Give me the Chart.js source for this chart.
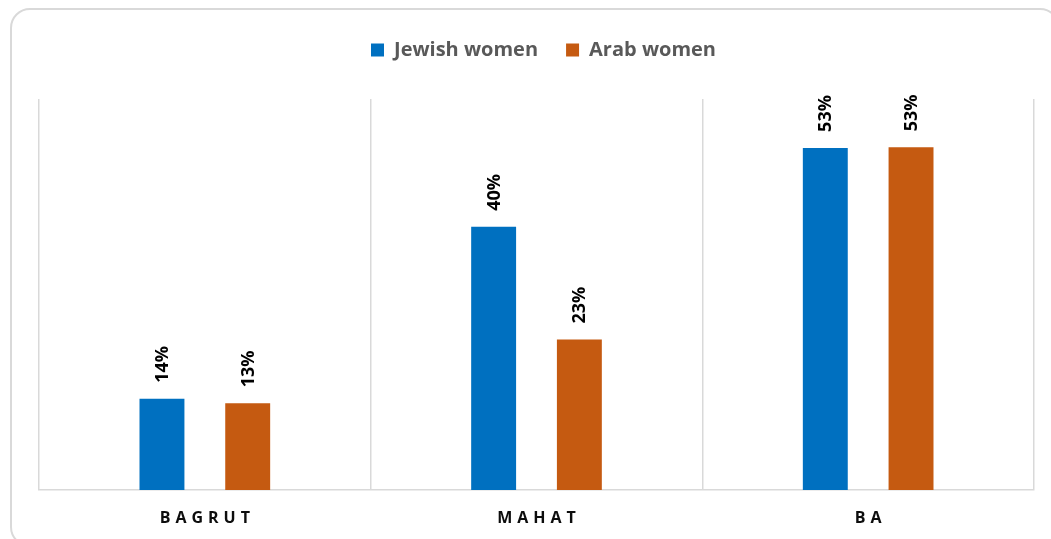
<!DOCTYPE html>
<html>
<head>
<meta charset="utf-8">
<script src="https://cdn.jsdelivr.net/npm/chart.js@4.4.1/dist/chart.umd.min.js"></script>
<style>
    body { margin: 0; background: #fff; overflow: hidden; }
    #wrap { position: relative; width: 1051px; height: 539px; overflow: hidden; }
    #frame {
        position: absolute; left: 10px; top: 8px; width: 1046px; height: 535px;
        border: 2px solid #d9d9d9; border-radius: 20px; pointer-events: none;
    }
    canvas { position: absolute; left: 0; top: 0; }
</style>
</head>
<body>
<div id="wrap">
    <canvas id="mychart" width="1051" height="539"></canvas>
    <div id="frame"></div>
</div>
<script>
const categories = ["BAGRUT", "MAHAT", "BA"];
const jewishWomen = [14.0, 40.4, 52.5];
const arabWomen = [13.3, 23.1, 52.6];
const seriesNames = ["Jewish women", "Arab women"];

const FONT = "'Open Sans', 'DejaVu Sans', sans-serif";

// extra room under the legend, and nudge it a bit right
const legendGap = {
    id: 'legendGap',
    beforeInit(chart) {
        const fit = chart.legend.fit;
        chart.legend.fit = function() {
            fit.bind(chart.legend)();
            this.height += 29;
        };
    },
    afterLayout(chart) {
        chart.legend.left += 7;
        chart.legend.right += 7;
    }
};

// rotated % labels above bars
const barLabels = {
    id: 'barLabels',
    afterDatasetsDraw(chart) {
        const ctx = chart.ctx;
        ctx.save();
        ctx.font = "bold 18px " + FONT;
        ctx.fillStyle = "#000";
        ctx.textAlign = "left";
        ctx.textBaseline = "middle";
        chart.data.datasets.forEach((ds, i) => {
            chart.getDatasetMeta(i).data.forEach((bar, j) => {
                ctx.save();
                ctx.translate(bar.x + 1, bar.y - 16);
                ctx.rotate(-Math.PI / 2);
                ctx.fillText(Math.round(ds.data[j]) + "%", 0, 0);
                ctx.restore();
            });
        });
        ctx.restore();
    }
};

// category labels with wide letter spacing
const spacedTicks = {
    id: 'spacedTicks',
    afterDraw(chart) {
        const ctx = chart.ctx;
        const x = chart.scales.x;
        ctx.save();
        ctx.font = "bold 16px " + FONT;
        ctx.letterSpacing = "5px";
        ctx.fillStyle = "#0d0d0d";
        ctx.textAlign = "center";
        ctx.textBaseline = "middle";
        categories.forEach((c, i) => {
            ctx.fillText(c, x.getPixelForTick(i) + 2.5, chart.chartArea.bottom + 28);
        });
        ctx.restore();
    }
};

var myChart = new Chart(document.getElementById('mychart'), {
    type: 'bar',
    data: {
        labels: categories,
        datasets: [{
            label: seriesNames[0],
            data: jewishWomen,
            backgroundColor: "#0070c0"
        }, {
            label: seriesNames[1],
            data: arabWomen,
            backgroundColor: "#c55a11"
        }]
    },
    options: {
        responsive: false,
        animation: false,
        categoryPercentage: 0.517,
        barPercentage: 0.524,
        layout: { padding: { left: 39, right: 17, top: 12, bottom: 3 } },
        plugins: {
            tooltip: { enabled: false },
            legend: {
                position: 'top',
                labels: {
                    boxWidth: 13,
                    boxHeight: 13,
                    padding: 28,
                    color: "#595959",
                    font: { family: FONT, size: 20, weight: 'bold' }
                }
            }
        },
        scales: {
            x: {
                grid: { color: "#d9d9d9", lineWidth: 1.5, offset: true, drawTicks: false },
                border: { color: "#d9d9d9", width: 1.5 },
                ticks: {
                    color: "transparent",
                    padding: 14,
                    font: { family: FONT, size: 15, weight: 'bold' }
                }
            },
            y: {
                display: false,
                min: 0,
                max: 60
            }
        }
    },
    plugins: [legendGap, barLabels, spacedTicks]
});
</script>
</body>
</html>
